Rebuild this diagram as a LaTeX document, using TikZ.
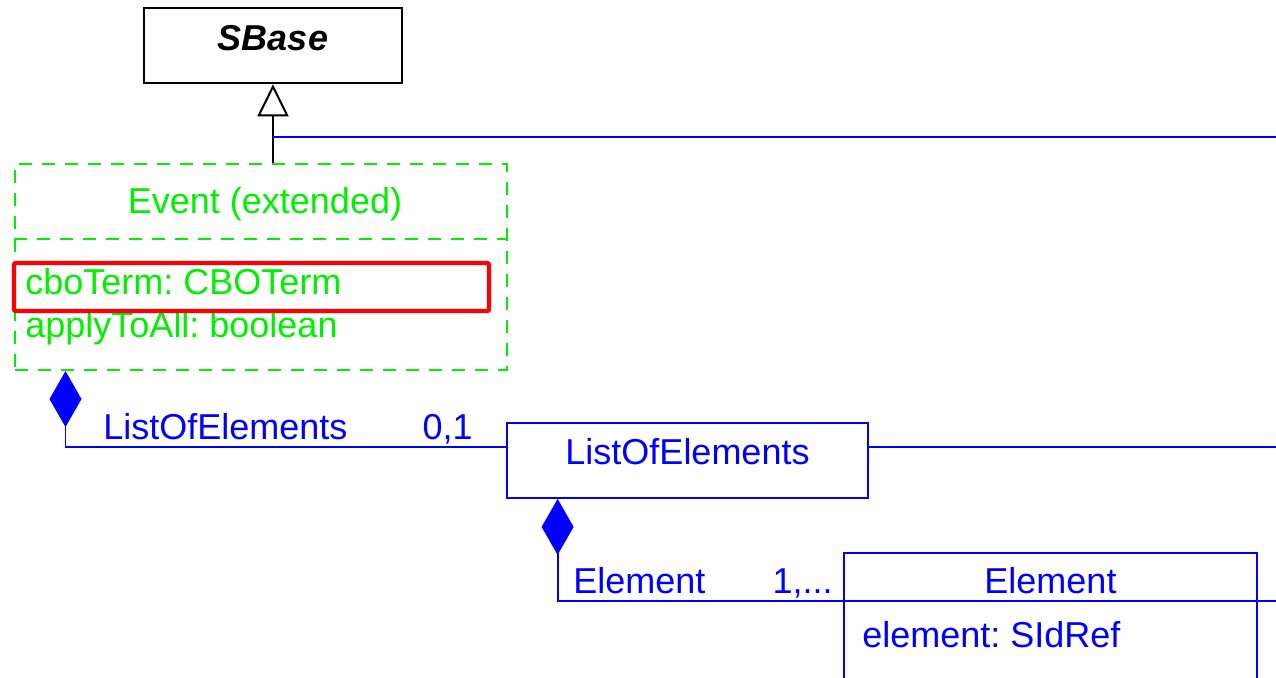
\documentclass[tikz,border=0pt]{standalone}
\usepackage{fontspec}
\setmainfont{Liberation Sans}
\usetikzlibrary{arrows.meta,calc}
\definecolor{evgreen}{RGB}{0,240,0}
\definecolor{umlblue}{RGB}{0,0,255}
\newcommand{\umlfont}{\fontsize{18}{21}\selectfont}
\tikzstyle{classbox}=[draw, rectangle, inner sep=0pt]
\tikzstyle{txt}=[inner sep=0pt, font=\umlfont]
\tikzstyle{blueline}=[draw=umlblue, line width=0.9pt]
\tikzstyle{greendash}=[draw=evgreen, line width=1pt, dash pattern=on 6.5pt off 5pt]
\tikzstyle{comp}=[blueline, {Diamond[width=16pt, length=28pt, fill=umlblue]}-]
\frenchspacing

\begin{document}
\begin{tikzpicture}[x=0.5pt, y=-0.5pt, line join=miter]
	\useasboundingbox (0,0) rectangle (1276,677);
	\clip (0,0) rectangle (1276,677);
	\coordinate (edge) at (1276,0);

	% SBase
	\node[classbox, draw=black, line width=1.3pt, minimum width=129pt, minimum height=37.5pt] (sbase) at (273,45.5) {};
	\node[txt, anchor=base, font=\umlfont\bfseries\itshape] (sbasename) at (273,50) {SBase};

	% Event (extended)
	\node[classbox, greendash, minimum width=246pt, minimum height=103pt] (event) at (261,267) {};
	\draw[greendash] ([yshift=-38pt]event.north west) -- ([yshift=-38pt]event.north east);
	\node[txt, anchor=base, text=evgreen] (eventname) at (265,213) {Event (extended)};
	\node[txt, anchor=base west, text=evgreen] (attrcbo) at (25,294) {cboTerm: CBOTerm};
	\node[txt, anchor=base west, text=evgreen] (attrapply) at (25,337) {applyToAll: boolean};
	\draw[red, line width=2.2pt, rounded corners=1pt] (14,263) rectangle (489,311);

	% ListOfElements
	\node[classbox, blueline, minimum width=180.5pt, minimum height=37.5pt] (listof) at (687.5,460.5) {};
	\node[txt, anchor=base, text=umlblue] (listofname) at (687.5,464) {ListOfElements};

	% Element
	\node[classbox, blueline, minimum width=206.5pt, minimum height=83.5pt] (elem) at (1050.5,636.5) {};
	\draw[blueline] ([yshift=-24.5pt]elem.north west) -- ([yshift=-24.5pt]elem.north east);
	\node[txt, anchor=base, text=umlblue] (elemname) at (1050.5,593) {Element};
	\node[txt, anchor=base west, text=umlblue] (elemattr) at (862,647) {element: SIdRef};

	% inheritance
	\draw[black, line width=1pt, -{Triangle[open, width=15.5pt, length=16pt]}] (sbase.south |- event.north) -- (sbase.south);
	\coordinate (genjoin) at (273,137);
	\draw[blueline] (genjoin) -- (genjoin -| edge);

	% compositions
	\coordinate (listofl) at ([yshift=6.75pt]listof.west);
	\coordinate (listofr) at ([yshift=6.75pt]listof.east);
	\coordinate (eleml) at ([yshift=-24.5pt]elem.north west);
	\coordinate (elemr) at ([yshift=-24.5pt]elem.north east);
	\draw[comp] ([xshift=25.75pt]event.south west) |- (listofl);
	\draw[blueline] (listofr) -- (listofr -| edge);
	\draw[comp] ([xshift=25.75pt]listof.south west) |- (eleml);
	\draw[blueline] (elemr) -- (elemr -| edge);

	% roles and multiplicities
	\node[txt, anchor=base west, text=umlblue] (rolelist) at (103,439) {ListOfElements};
	\node[txt, anchor=base east, text=umlblue] (multlist) at (473,439) {0,1};
	\node[txt, anchor=base west, text=umlblue] (roleelem) at (573,593) {Element};
	\node[txt, anchor=base east, text=umlblue] (multelem) at (833,593) {1,...};
\end{tikzpicture}
\end{document}
